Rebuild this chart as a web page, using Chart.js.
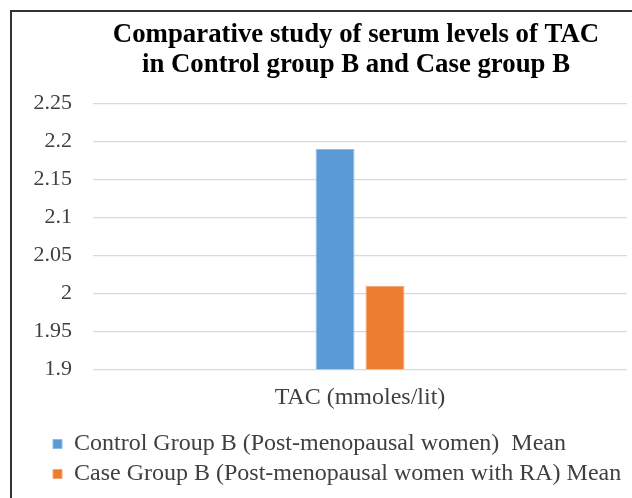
<!DOCTYPE html>
<html>
<head>
<meta charset="utf-8">
<script src="https://cdn.jsdelivr.net/npm/chart.js@4/dist/chart.umd.min.js"></script>
<style>
  html, body { margin: 0; padding: 0; background: #ffffff; }
  #wrap { position: relative; width: 632px; height: 498px; overflow: hidden; }
  #frame { position: absolute; left: 10px; top: 10px; width: 700px; height: 600px;
           border-left: 2px solid #333333; border-top: 2px solid #333333; }
  canvas { position: absolute; left: 0; top: 0; }
</style>
</head>
<body>
<div id="wrap">
  <div id="frame"></div>
  <canvas id="c" width="632" height="498"></canvas>
</div>
<script>
const categories = ['TAC (mmoles/lit)'];
const seriesNames = [
  'Control Group B (Post-menopausal women)  Mean',
  'Case Group B (Post-menopausal women with RA) Mean'
];
const controlValues = [2.19];
const caseValues = [2.01];
const yTickLabels = ['1.9', '1.95', '2', '2.05', '2.1', '2.15', '2.2', '2.25'];
const titleLines = ['Comparative study of serum levels of TAC', 'in Control group B and Case group B'];

const serif = "'Liberation Serif', 'Times New Roman', serif";

const boxShift = {
  id: 'boxShift',
  afterLayout(chart) {
    if (chart.legend) { chart.legend.left = 47; }
    if (chart.titleBlock) { chart.titleBlock.left -= 4; chart.titleBlock.right -= 4; }
  }
};

new Chart(document.getElementById('c'), {
  type: 'bar',
  data: {
    labels: categories,
    datasets: [
      { label: seriesNames[0], data: controlValues, backgroundColor: '#5B9BD5',
        borderColor: '#8DBBE6', borderWidth: 1, categoryPercentage: 0.187, barPercentage: 0.78 },
      { label: seriesNames[1], data: caseValues, backgroundColor: '#ED7D31',
        borderColor: '#F3A772', borderWidth: 1, categoryPercentage: 0.187, barPercentage: 0.78 }
    ]
  },
  plugins: [boxShift],
  options: {
    responsive: false,
    animation: false,
    devicePixelRatio: 1,
    layout: { padding: { left: 28, right: 5, top: 0, bottom: 2 } },
    plugins: {
      title: {
        display: true,
        text: titleLines,
        fullSize: false,
        color: '#000000',
        font: { family: serif, size: 26.8, weight: 'bold', lineHeight: 1.13 },
        padding: { top: 20, bottom: 23 }
      },
      legend: {
        display: true,
        position: 'bottom',
        align: 'start',
        labels: {
          boxWidth: 9, boxHeight: 9, padding: 6,
          color: '#404040',
          font: { family: serif, size: 24, lineHeight: 1 }
        }
      },
      tooltip: { enabled: false }
    },
    scales: {
      x: {
        grid: { display: false, drawTicks: false },
        border: { display: false },
        ticks: { color: '#404040', padding: 14, font: { family: serif, size: 24 } }
      },
      y: {
        min: 1.9, max: 2.25,
        afterFit: (s) => { s.width = 65; },
        grid: { color: '#d9d9d9', lineWidth: 1.3, drawTicks: false },
        border: { display: false },
        ticks: {
          stepSize: 0.05,
          padding: 21,
          color: '#404040',
          font: { family: serif, size: 22 },
          callback: (v) => yTickLabels[Math.round((v - 1.9) / 0.05)]
        }
      }
    }
  }
});
</script>
</body>
</html>
